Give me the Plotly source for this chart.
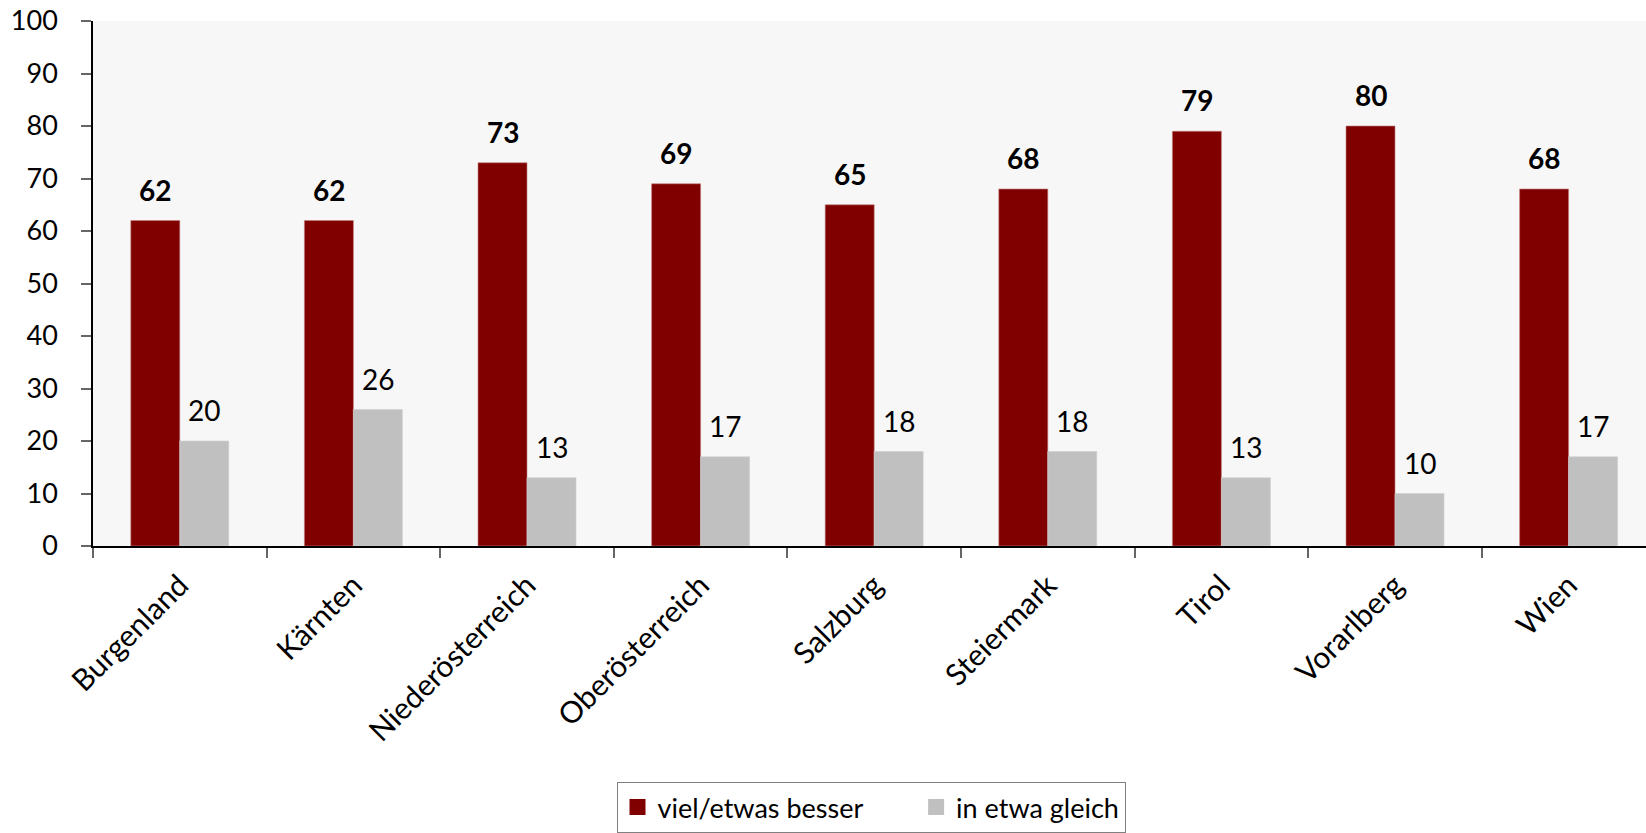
import plotly.graph_objects as go

# Bundesländer and survey shares (%)
regions = ["Burgenland", "Kärnten", "Niederösterreich", "Oberösterreich", "Salzburg",
           "Steiermark", "Tirol", "Vorarlberg", "Wien"]
besser = [62, 62, 73, 69, 65, 68, 79, 80, 68]
gleich = [20, 26, 13, 17, 18, 18, 13, 10, 17]
series_names = ["viel/etwas besser", "in etwa gleich"]

RED = "#800000"
GREY = "#c0c0c0"
FONT = "Lato, 'Open Sans', sans-serif"

W, H = 1646, 833
M_L, M_R, M_T, M_B = 93, 0, 21, 287
CAT_PX = 173.6          # width of one category on the axis
BAR_PX = 49             # width of a single bar

fig = go.Figure()
fig.add_trace(go.Bar(x=regions, y=besser, name=series_names[0], showlegend=False,
                     marker=dict(color=RED, line=dict(color="#c48080", width=0.6))))
fig.add_trace(go.Bar(x=regions, y=gleich, name=series_names[1], showlegend=False,
                     marker=dict(color=GREY, line=dict(color="#d0d0d0", width=0.6))))

# legend keys: larger square swatches than the default bar symbol;
# trailing non-breaking spaces widen the gap between the two entries
legend_pad = ["\u00a0" * 7, ""]
for name, col, pad in zip(series_names, [RED, GREY], legend_pad):
    fig.add_trace(go.Scatter(x=[None], y=[None], mode="markers", name=name + pad,
                             marker=dict(symbol="square", size=17, color=col)))

# value labels above each bar
ann = []
for r, v in zip(regions, besser):
    ann.append(dict(x=r, y=v, xref="x", yref="y", text=str(v), showarrow=False,
                    xshift=-BAR_PX / 2, yshift=12, yanchor="bottom",
                    font=dict(family=FONT, size=28, color="black", weight="bold")))
for r, v in zip(regions, gleich):
    ann.append(dict(x=r, y=v, xref="x", yref="y", text=str(v), showarrow=False,
                    xshift=BAR_PX / 2, yshift=12, yanchor="bottom",
                    font=dict(family=FONT, size=28, color="black")))

plot_w = W - M_L - M_R
x_end = -0.5 + plot_w / CAT_PX

fig.update_layout(
    width=W, height=H,
    margin=dict(l=M_L, r=M_R, t=M_T, b=M_B, pad=0),
    paper_bgcolor="white",
    plot_bgcolor="#f7f7f7",
    barmode="group",
    bargap=1 - 2 * BAR_PX / CAT_PX,
    bargroupgap=0,
    font=dict(family=FONT, size=27, color="black"),
    annotations=ann,
    showlegend=True,
    legend=dict(orientation="h", x=(871 - M_L) / plot_w, xanchor="center",
                y=(546 - 782) / (H - M_T - M_B), yanchor="top",
                bordercolor="#808080", borderwidth=1, bgcolor="white",
                font=dict(family=FONT, size=27, color="black"),
                traceorder="normal", itemsizing="trace"),
    xaxis=dict(range=[-0.5, x_end], showline=True, linecolor="black", linewidth=1.5,
               ticks="outside", ticklen=10, tickcolor="#666666", tickwidth=1.5,
               tickson="boundaries", tickangle=-45, showgrid=False,
               tickfont=dict(family=FONT, size=30, color="black"),
               ticklabelstandoff=8),
    yaxis=dict(range=[0, 100], dtick=10, showline=True, linecolor="black", linewidth=1.5,
               ticks="outside", ticklen=10, tickcolor="#666666", tickwidth=1.5,
               showgrid=False, zeroline=False,
               tickfont=dict(family=FONT, size=27, color="black"),
               ticklabelstandoff=18),
)

fig.write_html("out.html")
